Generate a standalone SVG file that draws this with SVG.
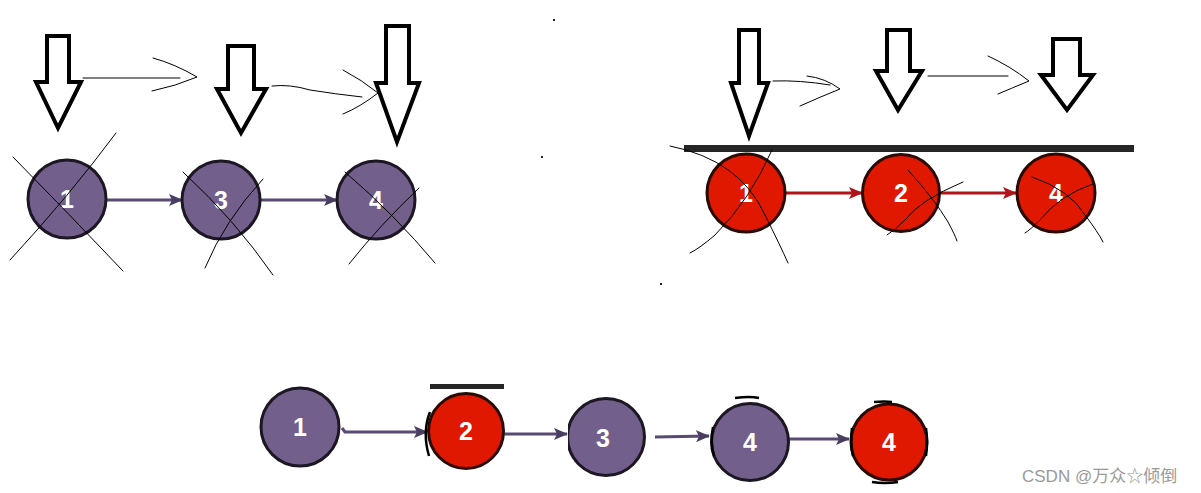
<svg xmlns="http://www.w3.org/2000/svg" width="1201" height="493" viewBox="0 0 1201 493">
<defs>
<marker id="ap" markerWidth="14" markerHeight="12" refX="13" refY="6" orient="auto" markerUnits="userSpaceOnUse" viewBox="0 0 14 12"><path d="M0,0 L14,6 L0,12 L3,6 Z" fill="#4a3d62"/></marker>
<marker id="ar" markerWidth="14" markerHeight="12" refX="13" refY="6" orient="auto" markerUnits="userSpaceOnUse" viewBox="0 0 14 12"><path d="M0,0 L14,6 L0,12 L3,6 Z" fill="#b0141a"/></marker>
</defs>
<style>
.p{fill:#725f8b;stroke:#1c1722;stroke-width:3}
.r{fill:#e11800;stroke:#2a0a05;stroke-width:3}
.n{font-family:"Liberation Sans",Arial,sans-serif;font-weight:bold;font-size:25px;fill:#fff;text-anchor:middle}
.cp{stroke:#584a72;stroke-width:3;fill:none}
.cr{stroke:#b0141a;stroke-width:3;fill:none}
.ha{fill:#fff;stroke:#000;stroke-width:4;stroke-linejoin:miter}
.h{fill:none;stroke:#000;stroke-width:1;stroke-linecap:round}
.bar{fill:#262626}
.arc{fill:none;stroke:#000;stroke-width:2.5}
.wm{font-family:"Liberation Sans",Arial,"Noto Sans CJK SC",sans-serif;font-size:17px;fill:#9a9a9a}
</style>
<rect width="1201" height="493" fill="#fff"/>
<g id="dots" fill="#222">
<rect x="553" y="19" width="2" height="2"/>
<rect x="541" y="156" width="2" height="2"/>
<rect x="660" y="283" width="2" height="2"/>
</g>
<g id="connectors">
<line class="cp" x1="106" y1="200" x2="182" y2="200" marker-end="url(#ap)"/>
<line class="cp" x1="260" y1="200" x2="337" y2="200" marker-end="url(#ap)"/>
<line class="cr" x1="786" y1="193" x2="862" y2="193" marker-end="url(#ar)"/>
<line class="cr" x1="940" y1="193" x2="1016" y2="193" marker-end="url(#ar)"/>
<path class="cp" d="M342,428 L345,432 L427,432" marker-end="url(#ap)"/>
<line class="cp" x1="504" y1="434" x2="567" y2="434" marker-end="url(#ap)"/>
<line class="cp" x1="655" y1="437" x2="709" y2="436" marker-end="url(#ap)"/>
<line class="cp" x1="789" y1="439" x2="849" y2="439" marker-end="url(#ap)"/>
</g>
<g id="pointers">
<polygon class="ha" points="47,36 69,36 69,82 81,82 58,128 36,82 47,82"/>
<polygon class="ha" points="228,46 254,46 254,89 266,89 241,133 217,89 228,89"/>
<polygon class="ha" points="386,26 409,26 409,83 419,83 397,142 376,83 386,83"/>
<polygon class="ha" points="739,30 759,30 759,83 768,83 749,136 731,83 739,83"/>
<polygon class="ha" points="887,30 910,30 910,71 922,71 898,110 876,71 887,71"/>
<polygon class="ha" points="1053,39 1080,39 1080,75 1093,75 1067,110 1041,75 1053,75"/>
</g>
<g id="sketch-arrows">
<path class="h" d="M83,78 L180,78"/>
<path class="h" d="M153,58 Q175,64 197,77 Q176,86 152,91"/>
<path class="h" d="M272,86 Q290,84 310,90 Q335,94 362,97"/>
<path class="h" d="M343,70 Q362,80 378,93 Q360,107 343,114"/>
<path class="h" d="M773,81 Q800,80 830,85"/>
<path class="h" d="M807,76 Q825,78 840,89 Q820,97 800,106"/>
<path class="h" d="M928,76 L1008,76"/>
<path class="h" d="M988,56 Q1010,66 1029,81 Q1012,88 998,94"/>
</g>
<g id="bars">
<rect class="bar" x="684" y="145" width="450" height="7"/>
<rect class="bar" x="430" y="384" width="74" height="5"/>
</g>
<g id="n-t1"><circle class="p" cx="67" cy="199" r="39"/><text class="n" x="67" y="208">1</text></g>
<g id="n-t3"><circle class="p" cx="221" cy="200" r="39"/><text class="n" x="221" y="209">3</text></g>
<g id="n-t4"><circle class="p" cx="376" cy="200" r="39"/><text class="n" x="376" y="209">4</text></g>
<g id="n-r1"><circle class="r" cx="746" cy="193" r="39"/><text class="n" x="746" y="202">1</text></g>
<g id="n-r2"><circle class="r" cx="901" cy="193" r="38.5"/><text class="n" x="901" y="202">2</text></g>
<g id="n-r4"><circle class="r" cx="1056" cy="193" r="39"/><text class="n" x="1056" y="202">4</text></g>
<g id="n-b1"><circle class="p" cx="300" cy="427" r="39"/><text class="n" x="300" y="436">1</text></g>
<g id="n-b2"><circle class="r" cx="466" cy="431" r="37.5"/><path class="arc" d="M430,412 Q422,432 429,456"/><text class="n" x="466" y="440">2</text></g>
<g id="n-b3"><clipPath id="c3"><rect x="568" y="390" width="90" height="100"/></clipPath><circle class="p" cx="606" cy="437" r="38.5" clip-path="url(#c3)"/><text class="n" x="603" y="447">3</text></g>
<g id="n-b4"><circle class="p" cx="750" cy="442" r="38.5"/><path class="arc" d="M735,398 Q750,396 759,398"/><path class="arc" d="M713,427 Q710,442 714,456"/><text class="n" x="750" y="451">4</text></g>
<g id="n-b4r"><circle class="r" cx="889" cy="442" r="38"/><path class="arc" d="M874,402 Q885,401 892,402"/><path class="arc" d="M872,482 Q885,484 898,482"/><path class="arc" d="M852,428 Q850,442 853,456"/><path class="arc" d="M926,428 Q928,442 926,456"/><text class="n" x="889" y="451">4</text></g>
<g id="crosses">
<path class="h" d="M116,133 Q70,195 10,260"/>
<path class="h" d="M13,157 Q70,215 123,271"/>
<path class="h" d="M183,172 Q235,220 273,275"/>
<path class="h" d="M263,179 Q225,220 205,268"/>
<path class="h" d="M345,172 Q395,215 435,263"/>
<path class="h" d="M419,188 Q380,225 349,264"/>
<path class="h" d="M670,146 Q740,160 765,215 Q780,245 788,263"/>
<path class="h" d="M772,150 Q750,200 715,235 Q700,248 690,253"/>
<path class="h" d="M908,170 Q935,200 948,222 Q955,235 957,241"/>
<path class="h" d="M963,182 Q920,200 905,220 Q895,230 887,235"/>
<path class="h" d="M1032,177 Q1070,190 1085,215 Q1098,232 1103,242"/>
<path class="h" d="M1093,184 Q1060,195 1040,220 Q1030,230 1025,233"/>
</g>
<text class="wm" x="1022" y="482">CSDN @万众☆倾倒</text>
</svg>
